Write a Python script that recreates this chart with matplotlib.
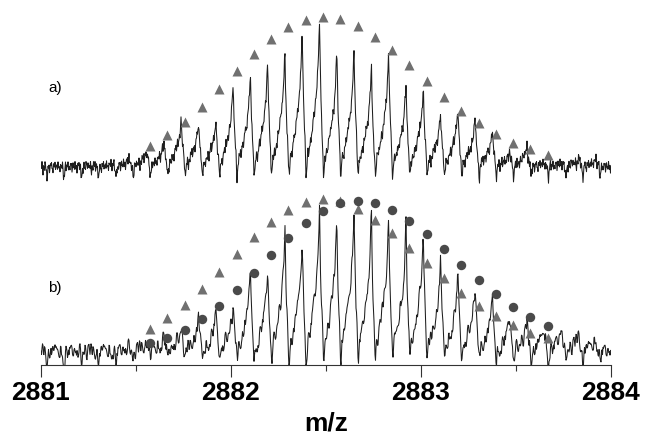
import numpy as np
import matplotlib.pyplot as plt

plt.rcParams['font.family'] = ['Liberation Sans', 'DejaVu Sans']

# measured isotope peaks (m/z) and their heights in trace a) and b)
peak_mz = [2881.010, 2881.101, 2881.192, 2881.283, 2881.374, 2881.465,
           2881.556, 2881.647, 2881.738, 2881.829, 2881.920, 2882.011,
           2882.102, 2882.193, 2882.284, 2882.375, 2882.466, 2882.557,
           2882.648, 2882.739, 2882.830, 2882.921, 2883.012, 2883.103,
           2883.194, 2883.285, 2883.376, 2883.467, 2883.558, 2883.649,
           2883.740, 2883.831, 2883.922]
peak_a = [0, 0, 0, 0, 3, 8, 16, 25, 49, 46, 47, 84, 96, 109, 120, 142, 153,
          120, 122, 103, 120, 85, 82, 56, 60, 50, 37, 15, 21, 4, 4, 8, 8]
peak_b = [0, 0, 0, 0, 2, 5, 12, 18, 25, 35, 42, 47, 82, 85, 123, 117, 149,
          140, 153, 144, 144, 134, 125, 95, 82, 70, 55, 37, 30, 25, 25, 19, 15]

# simulated isotope distributions
sim_mz = [2881.574, 2881.665, 2881.756, 2881.847, 2881.938, 2882.029,
          2882.120, 2882.211, 2882.302, 2882.393, 2882.484, 2882.575,
          2882.666, 2882.757, 2882.848, 2882.939, 2883.030, 2883.121,
          2883.212, 2883.303, 2883.394, 2883.485, 2883.576, 2883.667]
tri_a = [21, 32, 45, 60, 78, 96, 113, 128, 140, 147, 150, 148,
         141, 130, 117, 102, 86, 70, 56, 44, 33, 24, 18, 12]
tri_b = [23, 34, 47, 63, 80, 98, 115, 130, 142, 150, 153, 151,
         143, 132, 119, 104, 89, 74, 59, 46, 36, 27, 19, 14]
dot_b = [9, 14, 22, 33, 46, 62, 79, 97, 114, 129, 141, 149,
         151, 149, 142, 131, 118, 103, 87, 72, 58, 45, 35, 26]

# baseline jitter, read as a rough sequence off the flat parts of the traces
jitter = [0.3, -0.5, 0.8, -0.2, -0.9, 0.4, 0.1, -0.6, 0.7, 0.2, -0.3, 0.9,
          -0.7, -0.1, 0.5, -0.4, 0.6, -0.8, 0.0, 0.4, -0.2, 0.7, -0.5, 0.3,
          -0.9, 0.6, 0.1, -0.3, 0.8, -0.6, 0.2, -0.1, 0.5, -0.7, 0.9, -0.4,
          0.0, 0.3, -0.8, 0.6, -0.2, 0.4, -0.5, 0.7, 0.1, -0.9, 0.5, -0.3,
          0.2, 0.8, -0.6, -0.1, 0.4, -0.4, 0.9, -0.7, 0.3, 0.0, -0.5, 0.6,
          -0.2, 0.7, -0.8, 0.1, 0.5, -0.3, 0.3, -0.6, 0.8, -0.1, -0.4, 0.6,
          -0.9, 0.2, 0.4, -0.2, 0.7, -0.5, 0.0, 0.9, -0.7, 0.3, -0.3, 0.5,
          -0.8, 0.1, 0.6, -0.4, 0.2, -0.6, 0.8, -0.1, 0.4, -0.5, 0.7, -0.3, 0.1]

offset_a = 185


def trace(mz, heights, amp, step):
    x = np.linspace(2881, 2884, 1141)
    y = np.zeros_like(x)
    for c, h in zip(mz, heights):
        dx = x - c
        spike = np.where(dx < 0, np.exp(dx / 0.016), np.exp(-dx / 0.009))
        shoulder = 0.2 * np.exp(-0.5 * ((dx + 0.028) / 0.018) ** 2)
        y += h * (spike + shoulder) / 1.08
        y -= (10 + 0.1 * h) * np.exp(-0.5 * ((dx - 0.021) / 0.0035) ** 2)
    j = np.array(jitter)
    n = j[(np.arange(len(x)) * step) % len(j)]
    n = np.convolve(n, [0.2, 0.6, 0.2], mode='same')
    return x, y + amp * n


fig = plt.figure(figsize=(6.47, 4.46), dpi=100)
ax = fig.add_axes([41 / 647, 81 / 446, 570 / 647, 365 / 446])

xa, ya = trace(peak_mz, peak_a, 16, 1)
xb, yb = trace(peak_mz, peak_b, 12, 7)
ax.plot(xa, ya + offset_a, color='#1e1e1e', lw=0.75)
ax.plot(xb, yb, color='#1e1e1e', lw=0.75)

ax.plot(sim_mz, np.array(tri_a) + offset_a, '^', ms=7.5, color='#707070',
        mec='none', clip_on=False)
ax.plot(sim_mz, tri_b, '^', ms=7.5, color='#707070', mec='none', clip_on=False)
ax.plot(sim_mz, dot_b, 'o', ms=6.8, color='#4a4a4a', mec='none', clip_on=False)

ax.text(2881.037, 264, 'a)', fontsize=11, va='center', ha='left')
ax.text(2881.037, 64, 'b)', fontsize=11, va='center', ha='left')

ax.set_xlim(2881, 2884)
ax.set_ylim(-13, 352)
for s in ['top', 'left', 'right']:
    ax.spines[s].set_visible(False)
ax.spines['bottom'].set_color('#333333')
ax.spines['bottom'].set_linewidth(0.8)
ax.set_yticks([])
ax.set_xticks([2881, 2882, 2883, 2884])
ax.set_xticks([2881.5, 2882.5, 2883.5], minor=True)
ax.set_xticklabels(['2881', '2882', '2883', '2884'], fontweight='bold')
ax.tick_params(which='major', length=8.5, width=0.8, pad=3, labelsize=19,
               color='#333333')
ax.tick_params(which='minor', length=4.5, width=0.8, color='#333333')
ax.set_xlabel('m/z', fontsize=19, fontweight='bold', labelpad=5)

fig.savefig('out.png', dpi=100)
